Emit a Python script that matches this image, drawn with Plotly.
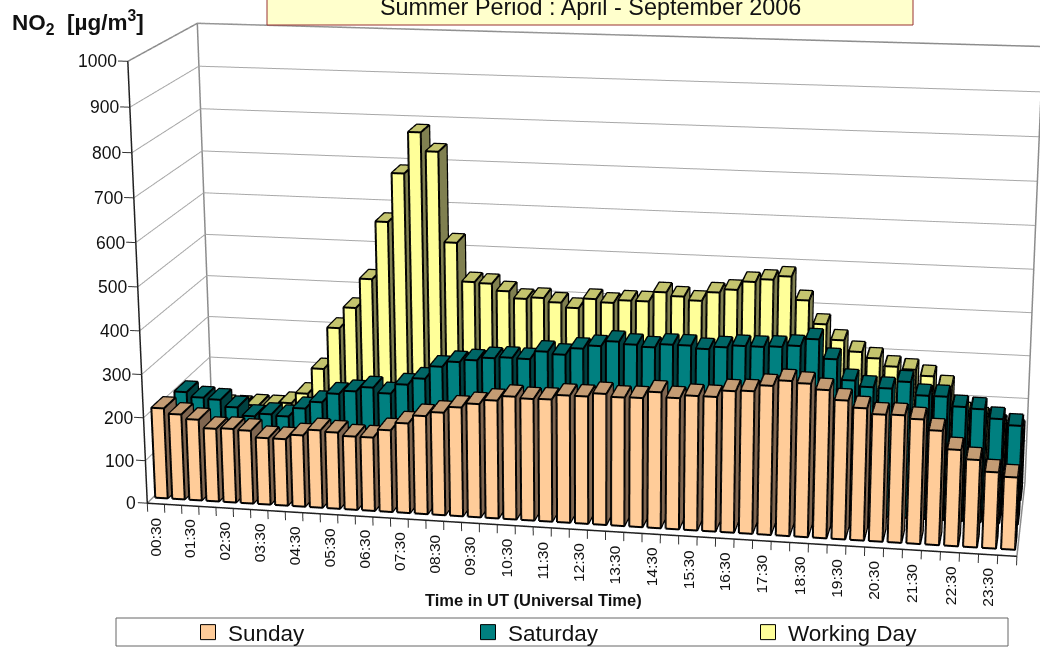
import numpy as np
import plotly.graph_objects as go

times = ["00:30"] + [f"{(h+1)//2:02d}:{'00' if h % 2 else '30'}" for h in range(1, 48)]
sunday = [211,199,189,170,172,170,155,155,166,180,177,170,170,189,207,226,236,250,260,270,281,278,279,290,290,298,292,293,308,297,304,304,319,321,335,348,344,332,311,296,284,285,278,255,215,195,170,161]
saturday = [200,189,186,170,151,158,155,176,193,215,223,234,222,245,261,291,304,310,317,320,319,338,333,349,357,369,364,360,368,368,362,368,373,373,375,379,396,353,307,294,293,310,281,281,260,257,237,224]
working = [115,120,120,125,125,135,160,222,322,372,442,578,692,788,745,536,446,444,428,412,416,407,396,419,412,419,419,442,434,426,447,455,475,482,491,438,385,350,325,312,295,290,277,255,195,185,170,160]
series_names = ["Sunday", "Saturday", "Working Day"]
series_values = [sunday, saturday, working]
front_colors = ["#FFCC99", "#008080", "#FFFF99"]
top_colors = ["#C49C74", "#006666", "#C4C46E"]
side_colors = ["#806650", "#004040", "#808050"]
z_ticks = list(range(0, 1001, 100))
x_range = [-0.5, 47.5]
y_range = [0, 3]
z_range = [0, 1000]
x_view = [-1.1, 47.6]
y_view = [-0.02, 3.02]
z_view = [-22, 1003]

# ---- camera fit: where the box corners sit in the picture ----
F = 2900.0
PX, PY = 520.0, 323.0
corners = {  # (sx,sy,sz) in 0/1 box coordinates -> pixel
    (0, 0, 0): (147, 503), (0, 0, 1): (128, 61), (0, 1, 0): (213, 437), (0, 1, 1): (197, 23),
    (1, 0, 0): (1018, 557), (1, 1, 0): (1026, 483), (1, 1, 1): (1041, 47),
}
def unit(v):
    v = np.array(v, float); return v / np.linalg.norm(v)
M0 = np.array([unit((15020, -723, -2900)), unit((610, 856, 2900)), unit((-60, 10177, -2900))]).T
U, _, Vt = np.linalg.svd(M0); M0 = U @ Vt
def rod(r):
    t = np.linalg.norm(r)
    if t < 1e-12: return np.eye(3)
    k = r / t; K = np.array([[0, -k[2], k[1]], [k[2], 0, -k[0]], [-k[1], k[0], 0]])
    return np.eye(3) + np.sin(t) * K + (1 - np.cos(t)) * K @ K
W = 1.8
def resid(p):
    M = rod(p[:3]) @ M0; C = p[3:6]; D, H = p[6], p[7]; out = []
    for (a, b, c), (x, y) in corners.items():
        q = np.array([(a - .5) * W, (b - .5) * D, (c - .5) * H]); cam = M @ (q - C)
        out += [PX + F * cam[0] / cam[2] - x, PY - F * cam[1] / cam[2] - y]
    return np.array(out)
p = np.zeros(8); p[6] = 0.15; p[7] = 0.95
p[3:6] = -M0.T @ np.array([0, 0, W * F / 870])
for _ in range(60):
    r0 = resid(p); J = np.zeros((len(r0), 8))
    for j in range(8):
        d = np.zeros(8); d[j] = 1e-5; J[:, j] = (resid(p + d) - r0) / 1e-5
    p = p - np.linalg.solve(J.T @ J + 1e-6 * np.eye(8), J.T @ r0)
M = rod(p[:3]) @ M0; C = p[3:6]; D, H = p[6], p[7]
right, up_v, fwd = M[0], M[1], M[2]
# the scene box is a little larger than the chart box, so ticks are not clipped
span = lambda r: r[1] - r[0]
mid = lambda r: (r[0] + r[1]) / 2
asp = np.array([W * span(x_view) / span(x_range), D * span(y_view) / span(y_range), H * span(z_view) / span(z_range)])
shift = np.array([(mid(x_view) - mid(x_range)) / span(x_range) * W, (mid(y_view) - mid(y_range)) / span(y_range) * D,
                  (mid(z_view) - mid(z_range)) / span(z_range) * H])
eye = C - shift
center = eye + fwd * np.linalg.norm(eye)

S = int(round(2 * F * np.tan(np.pi / 8)))
LEFT, TOP = PX - S / 2, PY - S / 2
px = lambda x: (x - LEFT) / S
py = lambda y: 1 - (y - TOP) / S
FONT = "Liberation Sans, Arial"

# ---- bars ----
HW, HD = 0.36, 0.25
fig = go.Figure()
def lines(pts, col, w):
    fig.add_trace(go.Scatter3d(x=[q[0] if q else None for q in pts], y=[q[1] if q else None for q in pts],
                               z=[q[2] if q else None for q in pts], mode="lines", line=dict(color=col, width=w),
                               showlegend=False, hoverinfo="skip", connectgaps=False))

x0r, x1r = x_range; y0r, y1r = y_range; z0r, z1r = z_range
grid = []
for v in z_ticks:
    grid += [(x0r, y0r, v), (x0r, y1r, v), (x1r, y1r, v), None]
lines(grid, "#A8A8A8", 2)
lines([(x0r, y1r, z0r), (x0r, y1r, z1r), None, (x1r, y1r, z0r), (x1r, y1r, z1r), None,
       (x0r, y0r, z1r), (x0r, y1r, z1r), (x1r, y1r, z1r), None, (x0r, y0r, z0r), (x0r, y1r, z0r), None,
       (x1r, y0r, z0r), (x1r, y1r, z0r)], "#8C8C8C", 3)

for k, vals in enumerate(series_values):
    X, Y, Z, I, J_, K_, FC = [], [], [], [], [], [], []
    edges = []
    yc = k + 0.5
    for i, v in enumerate(vals):
        n = len(X)
        x0, x1, y0, y1 = i - HW, i + HW, yc - HD, yc + HD
        for zz in (0, v):
            X += [x0, x1, x1, x0]; Y += [y0, y0, y1, y1]; Z += [zz] * 4
        quads = [((0, 1, 5, 4), front_colors[k]), ((4, 5, 6, 7), top_colors[k]), ((1, 2, 6, 5), side_colors[k]),
                 ((3, 0, 4, 7), side_colors[k]), ((2, 3, 7, 6), side_colors[k])]
        for (a, b, c, d), col in quads:
            I += [n + a, n + a]; J_ += [n + b, n + c]; K_ += [n + c, n + d]; FC += [col, col]
        e = 0.006
        xa, xb, ya, yb = x0 - e, x1 + e, y0 - e, y1 + e
        zt = v + 0.4
        edges += [(xa, ya, 0), (xb, ya, 0), (xb, ya, zt), (xa, ya, zt), (xa, ya, 0), None,
                  (xb, ya, 0), (xb, yb, 0), (xb, yb, zt), (xb, ya, zt), None,
                  (xa, ya, zt), (xa, yb, zt), (xb, yb, zt), None]
    fig.add_trace(go.Mesh3d(x=X, y=Y, z=Z, i=I, j=J_, k=K_, facecolor=FC, flatshading=True, showlegend=False,
                            hoverinfo="skip", lighting=dict(ambient=1, diffuse=0, specular=0, roughness=1, fresnel=0),
                            name=series_names[k]))
    lines(edges, "black", 4)

# ---- axis lines and ticks ----
ticks = []
for v in z_ticks:
    ticks += [(x0r, y0r, v), (x0r - 0.55, y0r, v), None]
for i in range(len(times) + 1):
    ticks += [(x0r + i, y0r, 0), (x0r + i, y0r, -20), None]
lines(ticks, "#333333", 2)
lines([(x0r, y0r, z1r), (x0r, y0r, z0r), (x1r, y0r, z0r)], "#202020", 3)

# legend entries
for n, c in zip(series_names, front_colors):
    fig.add_trace(go.Scatter(x=[None], y=[None], mode="markers", name=n,
                             marker=dict(symbol="square", size=15, color=c, line=dict(color="black", width=1))))

ann3d = []
for i, t in enumerate(times):
    if i % 2 == 0:
        ann3d.append(dict(x=i, y=0, z=0, text=t, textangle=-90, showarrow=False, yshift=-33,
                          font=dict(family=FONT, size=15.5, color="#111")))
for v in z_ticks:
    ann3d.append(dict(x=x0r, y=0, z=v, text=str(v), showarrow=False, xanchor="right", xshift=-9,
                      font=dict(family=FONT, size=17.5, color="#111")))

hidden = dict(showbackground=False, showticklabels=False, zeroline=False, showspikes=False, title="", showgrid=False, showline=False, ticks="")
fig.update_layout(
    width=S, height=S, margin=dict(l=0, r=0, t=0, b=0), autosize=False, paper_bgcolor="white", plot_bgcolor="white",
    xaxis=dict(visible=False), yaxis=dict(visible=False),
    scene=dict(
        domain=dict(x=[0, 1], y=[0, 1]),
        aspectmode="manual", aspectratio=dict(x=float(asp[0]), y=float(asp[1]), z=float(asp[2])),
        camera=dict(eye=dict(x=float(eye[0]), y=float(eye[1]), z=float(eye[2])),
                    center=dict(x=float(center[0]), y=float(center[1]), z=float(center[2])),
                    up=dict(x=float(up_v[0]), y=float(up_v[1]), z=float(up_v[2])),
                    projection=dict(type="perspective")),
        xaxis=dict(hidden, range=x_view),
        yaxis=dict(hidden, range=y_view),
        zaxis=dict(hidden, range=z_view),
        annotations=ann3d, bgcolor="rgba(0,0,0,0)"),
    showlegend=True,
    legend=dict(orientation="h", x=px(188), y=py(611), xanchor="left", yanchor="top", entrywidth=235, entrywidthmode="pixels",
                font=dict(family=FONT, size=22.5, color="#111"), bgcolor="rgba(0,0,0,0)", itemclick=False, itemdoubleclick=False),
    shapes=[
        dict(type="rect", xref="paper", yref="paper", x0=px(116), x1=px(1008), y0=py(646), y1=py(618), line=dict(color="#666", width=1), fillcolor="white", layer="below"),
        dict(type="rect", xref="paper", yref="paper", x0=px(267), x1=px(913), y0=py(25), y1=py(-40), line=dict(color="#993333", width=1), fillcolor="#FFFFCC", layer="above"),
    ],
    annotations=[
        dict(xref="paper", yref="paper", x=px(590), y=py(7), xanchor="center", text="Summer Period : April - September 2006", showarrow=False, font=dict(family=FONT, size=23.4, color="#111")),
        dict(xref="paper", yref="paper", x=px(78), y=py(22), xanchor="center", text="<b>NO<sub>2</sub>  [µg/m<sup>3</sup>]</b>", showarrow=False, font=dict(family=FONT, size=22.5, color="#111")),
        dict(xref="paper", yref="paper", x=px(533), y=py(600), xanchor="center", text="<b>Time in UT (Universal Time)</b>", showarrow=False, font=dict(family=FONT, size=16.5, color="#111")),
    ],
)
post = ("var d=document.getElementById('{plot_id}');d.style.position='fixed';d.style.left='%dpx';d.style.top='%dpx';"
        "document.documentElement.style.overflow='hidden';document.body.style.overflow='hidden';document.body.style.margin='0';") % (LEFT, TOP)
fig.write_html("out.html", post_script=post)
